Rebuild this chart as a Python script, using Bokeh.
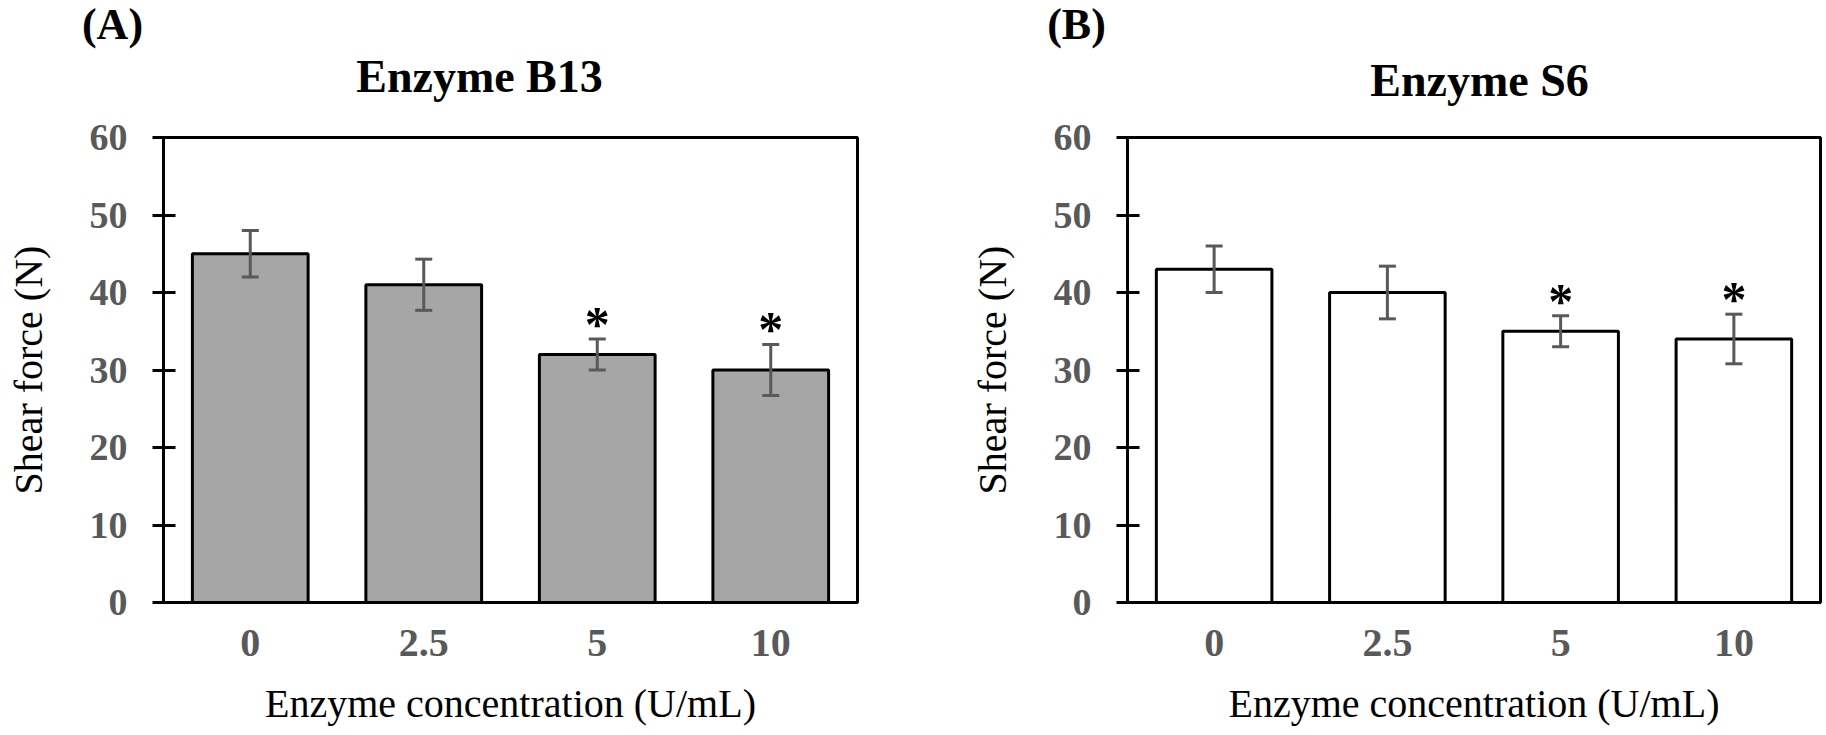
from bokeh.plotting import figure
from bokeh.models import (ColumnDataSource, Whisker, TeeHead, Label, Range1d,
                          FactorRange, SingleIntervalTicker)
from bokeh.layouts import row, column
from bokeh.embed import file_html
from bokeh.resources import INLINE
from bokeh.core.properties import value

# ---- data ----
concentrations = ["0", "2.5", "5", "10"]
b13_force = [45, 41, 32, 30]
b13_err = [3.0, 3.3, 2.0, 3.3]
b13_sig = ["", "", "*", "*"]
s6_force = [43, 40, 35, 34]
s6_err = [3.0, 3.4, 2.0, 3.2]
s6_sig = ["", "", "*", "*"]
y_ticks_step = 10
y_max = 60

FONT = "Liberation Serif"
GRAY = "#595959"
HEAD_H = 108
MAIN_H = 735 - HEAD_H
LABEL_SHIFT = 16  # empirical offset of Label baseline in the header strip


def make_panel(vals, errs, sig, fill, width, mb):
    mbl, mbr, mbt, mbb = mb
    src = ColumnDataSource(dict(
        x=concentrations, top=vals,
        upper=[v + e for v, e in zip(vals, errs)],
        lower=[v - e for v, e in zip(vals, errs)],
        sig=sig))
    p = figure(x_range=FactorRange(*concentrations), y_range=Range1d(0, y_max),
               width=width, height=MAIN_H, output_backend="svg",
               toolbar_location=None, title=None,
               min_border_left=mbl, min_border_right=mbr,
               min_border_top=mbt, min_border_bottom=mbb)
    p.x_range.range_padding = 0
    p.background_fill_color = "white"
    p.border_fill_color = "white"
    p.outline_line_color = "black"
    p.outline_line_width = 3
    p.xgrid.grid_line_color = None
    p.ygrid.grid_line_color = None

    p.vbar(x="x", top="top", bottom=0, width=0.667, source=src,
           fill_color=fill, line_color="black", line_width=3)
    wh = Whisker(base="x", upper="upper", lower="lower", source=src,
                 line_color=GRAY, line_width=3, level="overlay",
                 upper_head=TeeHead(size=17, line_color=GRAY, line_width=3),
                 lower_head=TeeHead(size=17, line_color=GRAY, line_width=3))
    p.add_layout(wh)
    p.text(x="x", y="upper", text="sig", source=src, text_font=value(FONT),
           text_font_style="bold", text_font_size="50px", text_color="black",
           text_align="center", text_baseline="alphabetic", y_offset=-15)

    # axes
    p.yaxis.ticker = SingleIntervalTicker(interval=y_ticks_step)
    p.yaxis.minor_tick_line_color = None
    p.yaxis.major_tick_in = 12
    p.yaxis.major_tick_out = 11
    p.yaxis.major_tick_line_width = 3
    p.yaxis.major_tick_line_color = "black"
    p.yaxis.axis_line_width = 3
    p.yaxis.axis_line_color = "black"
    p.yaxis.major_label_standoff = 25
    p.yaxis.major_label_text_font = FONT
    p.yaxis.major_label_text_font_style = "bold"
    p.yaxis.major_label_text_font_size = "38px"
    p.yaxis.major_label_text_color = GRAY
    p.yaxis.axis_label = "Shear force (N)"
    p.yaxis.axis_label_text_font = FONT
    p.yaxis.axis_label_text_font_style = "normal"
    p.yaxis.axis_label_text_font_size = "40px"
    p.yaxis.axis_label_text_color = "black"
    p.yaxis.axis_label_standoff = 36

    p.xaxis.major_tick_line_color = None
    p.xaxis.major_tick_out = 0
    p.xaxis.major_tick_in = 0
    p.xaxis.axis_line_width = 3
    p.xaxis.axis_line_color = "black"
    p.xaxis.major_label_standoff = 27
    p.xaxis.major_label_text_font = FONT
    p.xaxis.major_label_text_font_style = "bold"
    p.xaxis.major_label_text_font_size = "40px"
    p.xaxis.major_label_text_color = GRAY
    p.xaxis.axis_label = "Enzyme concentration (U/mL)"
    p.xaxis.axis_label_text_font = FONT
    p.xaxis.axis_label_text_font_style = "normal"
    p.xaxis.axis_label_text_font_size = "40px"
    p.xaxis.axis_label_text_color = "black"
    p.xaxis.axis_label_standoff = 22
    return p


# header strip holding panel tags and titles
head = figure(width=1826, height=HEAD_H, output_backend="svg",
              toolbar_location=None, title=None, x_range=Range1d(0, 1),
              y_range=Range1d(0, 1), x_axis_location=None, y_axis_location=None,
              min_border_left=0, min_border_right=0, min_border_top=0,
              min_border_bottom=0)
head.outline_line_color = None
head.xgrid.grid_line_color = None
head.ygrid.grid_line_color = None
head.background_fill_color = "white"
head.border_fill_color = "white"

# (text, centre x, baseline y from page top, font size)
header_texts = [
    ("(A)", 112, 40, "44px"),
    ("Enzyme B13", 479, 92, "46px"),
    ("(B)", 1076, 40, "44px"),
    ("Enzyme S6", 1479, 96, "46px"),
]
for txt, hx, hy, fs in header_texts:
    head.add_layout(Label(x=hx, y=HEAD_H - hy + LABEL_SHIFT,
                          x_units="screen", y_units="screen",
                          text=txt, text_font=FONT, text_font_style="bold",
                          text_font_size=fs, text_align="center",
                          text_baseline="alphabetic", text_color="black"))

pA = make_panel(b13_force, b13_err, b13_sig, "#a6a6a6", 900,
                (163, 43, 134 - HEAD_H, MAIN_H - (602 - HEAD_H)))
pB = make_panel(s6_force, s6_err, s6_sig, "white", 926,
                (227, 6, 137 - HEAD_H, MAIN_H - (605 - HEAD_H)))

layout = column(head, row(pA, pB))
open("out.html", "w").write(file_html(layout, INLINE))
